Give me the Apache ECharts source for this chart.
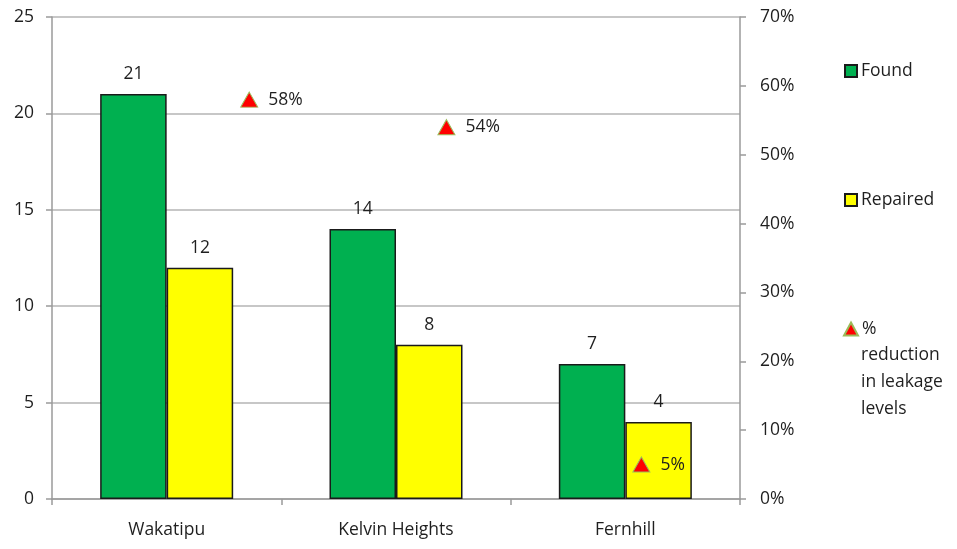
<!DOCTYPE html>
<html>
<head>
<meta charset="utf-8">
<script src="https://cdn.jsdelivr.net/npm/echarts@6/dist/echarts.min.js"></script>
<style>html,body{margin:0;padding:0;background:#fff}#c{width:957px;height:549px}</style>
</head>
<body>
<div id="c"></div>
<script>
var categories = ['Wakatipu', 'Kelvin Heights', 'Fernhill'];
var found = [21, 14, 7];
var repaired = [12, 8, 4];
var reductionPct = [58, 54, 5];
var reductionX = [0.86, 1.72, 2.57];
var leftTicks = {min: 0, max: 25, interval: 5};
var rightTicks = {min: 0, max: 70, interval: 10};

var FONT = 'Open Sans';
var FS = 17.5;
var TXT = '#1f1f1f';
var chart = echarts.init(document.getElementById('c'));
var scatterData = reductionPct.map(function (v, i) { return [reductionX[i], v]; });

chart.setOption({
  animation: false,
  textStyle: {fontFamily: FONT, color: TXT, fontSize: FS},
  grid: {left: 52, right: 217, top: 17, bottom: 50, containLabel: false},
  legend: [
    {data: [{name: 'Found', icon: 'rect'}], orient: 'vertical', left: 844, top: 62, padding: 0, itemWidth: 12, itemHeight: 12, itemGap: 0,
     textStyle: {fontFamily: FONT, fontSize: FS, color: TXT, padding: [0, 0, 0, -1]}},
    {data: [{name: 'Repaired', icon: 'rect'}], orient: 'vertical', left: 844, top: 191, padding: 0, itemWidth: 12, itemHeight: 12, itemGap: 0,
     textStyle: {fontFamily: FONT, fontSize: FS, color: TXT, padding: [0, 0, 0, -1]}},
    {data: ['% reduction in leakage levels'], orient: 'vertical', left: 843, top: 320, padding: 0, itemWidth: 14, itemHeight: 13, itemGap: 0,
     formatter: function () { return '%'; },
     textStyle: {fontFamily: FONT, fontSize: FS, color: TXT, padding: [0, 0, 0, -1]}}
  ],
  graphic: [{
    type: 'text', left: 861, top: 342,
    style: {text: 'reduction\nin leakage\nlevels', font: FS + 'px "' + FONT + '"', fill: TXT, lineHeight: 27}
  }],
  xAxis: [{
    type: 'category', data: categories,
    axisLine: {lineStyle: {color: '#9a9a9a', width: 1.5}},
    axisTick: {show: true, length: 6, lineStyle: {color: '#9a9a9a', width: 1.5}},
    axisLabel: {margin: 22, fontSize: FS, color: TXT, fontFamily: FONT}
  }, {
    type: 'value', min: 0, max: 3, show: false
  }],
  yAxis: [{
    type: 'value', min: leftTicks.min, max: leftTicks.max, interval: leftTicks.interval,
    axisLine: {show: true, lineStyle: {color: '#9a9a9a', width: 1.5}},
    axisTick: {show: true, length: 6, lineStyle: {color: '#9a9a9a', width: 1.5}},
    splitLine: {lineStyle: {color: '#b4b4b4', width: 1.5}},
    axisLabel: {margin: 18, fontSize: FS, color: TXT, fontFamily: FONT}
  }, {
    type: 'value', position: 'right', min: rightTicks.min, max: rightTicks.max, interval: rightTicks.interval,
    axisLine: {show: true, lineStyle: {color: '#9a9a9a', width: 1.5}},
    axisTick: {show: true, length: 6, lineStyle: {color: '#9a9a9a', width: 1.5}},
    splitLine: {show: false},
    axisLabel: {margin: 20, fontSize: FS, color: TXT, fontFamily: FONT, formatter: '{value}%'}
  }],
  series: [{
    name: 'Found', type: 'bar', data: found, barGap: '0%', barCategoryGap: '42%',
    itemStyle: {color: '#00b050', borderColor: '#1a1a1a', borderWidth: 1.5},
    label: {show: true, position: 'top', distance: 11, fontSize: FS, color: TXT, fontFamily: FONT}
  }, {
    name: 'Repaired', type: 'bar', data: repaired,
    itemStyle: {color: '#ffff00', borderColor: '#1a1a1a', borderWidth: 1.5},
    label: {show: true, position: 'top', distance: 11, fontSize: FS, color: TXT, fontFamily: FONT}
  }, {
    name: '% reduction in leakage levels', type: 'scatter', xAxisIndex: 1, yAxisIndex: 1,
    data: scatterData, symbol: 'triangle', symbolSize: [17, 15],
    itemStyle: {color: '#ff0000', borderColor: '#9bbb59', borderWidth: 1, opacity: 1},
    label: {show: true, position: 'right', distance: 10, fontSize: FS, color: TXT, fontFamily: FONT,
      formatter: function (p) { return p.value[1] + '%'; }}
  }]
});
</script>
</body>
</html>
